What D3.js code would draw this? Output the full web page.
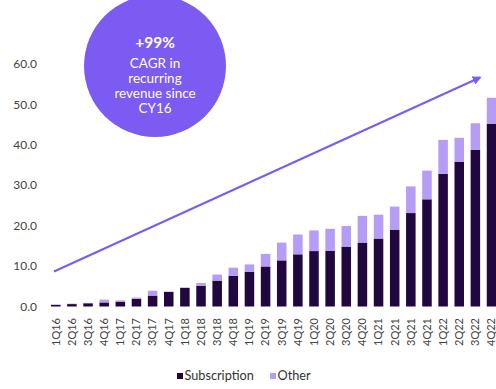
<!DOCTYPE html>
<html>
<head>
<meta charset="utf-8">
<script src="https://cdn.jsdelivr.net/npm/d3@7"></script>
<style>
  html, body { margin: 0; padding: 0; background: #fff; }
  svg { display: block; }
  text { font-family: Lato, "Noto Sans", sans-serif; }
</style>
</head>
<body>
<svg id="chart" width="496" height="389"></svg>
<script>
// Quarterly revenue ($M), split into subscription and other
const quarters = ["1Q16","2Q16","3Q16","4Q16","1Q17","2Q17","3Q17","4Q17",
  "1Q18","2Q18","3Q18","4Q18","1Q19","2Q19","3Q19","4Q19",
  "1Q20","2Q20","3Q20","4Q20","1Q21","2Q21","3Q21","4Q21",
  "1Q22","2Q22","3Q22","4Q22"];
const subscription = [0.4, 0.6, 0.8, 1.0, 1.2, 1.9, 2.7, 3.6,
  4.6, 5.1, 6.4, 7.6, 8.6, 9.9, 11.4, 12.9,
  13.7, 13.8, 14.8, 15.8, 16.8, 19.0, 23.1, 26.5,
  32.8, 35.8, 38.7, 45.2];
const other = [0.1, 0.1, 0.1, 0.7, 0.3, 0.3, 1.2, 0.1,
  0.1, 0.7, 1.5, 2.0, 1.8, 3.1, 4.4, 4.9,
  5.1, 5.4, 5.1, 6.6, 5.9, 5.7, 6.6, 7.1,
  8.4, 5.9, 6.6, 6.4];
const yTicks = [0, 10, 20, 30, 40, 50, 60];
const seriesNames = ["Subscription", "Other"];
const calloutLines = ["CAGR in", "recurring", "revenue since", "CY16"];
const calloutHeadline = "+99%";

const colors = { Subscription: "#22073f", Other: "#b59df6" };
const accent = "#7b5bf1";

const svg = d3.select("#chart");

const x = d3.scaleBand().domain(quarters).range([44.4, 502.9]).padding(0.41);
const y = d3.scaleLinear().domain([0, 60]).range([306.5, 63.8]);

// Stacked bars
const rows = quarters.map((q, i) => ({ q, Subscription: subscription[i], Other: other[i] }));
const stack = d3.stack().keys(seriesNames)(rows);

svg.append("g").selectAll("g").data(stack).join("g")
  .attr("fill", d => colors[d.key])
  .selectAll("rect").data(d => d).join("rect")
  .attr("x", d => x(d.data.q))
  .attr("width", x.bandwidth())
  .attr("y", d => y(d[1]))
  .attr("height", d => y(d[0]) - y(d[1]));

// Y axis: labels only
const yAxis = svg.append("g").attr("transform", "translate(37,0)")
  .call(d3.axisLeft(y).tickValues(yTicks).tickFormat(d3.format(".1f")).tickSize(0).tickPadding(0));
yAxis.select(".domain").remove();
yAxis.selectAll("text").attr("fill", "#444").style("font-size", "12px")
  .style("font-family", "Lato, sans-serif");

// X axis: rotated quarter labels
const xAxis = svg.append("g").attr("transform", "translate(0,312)")
  .call(d3.axisBottom(x).tickSize(0).tickPadding(0));
xAxis.select(".domain").remove();
xAxis.selectAll("text")
  .attr("fill", "#444").style("font-size", "11px").style("font-family", "Lato, sans-serif")
  .attr("transform", "rotate(-90)")
  .attr("text-anchor", "end")
  .attr("x", -6).attr("y", 0).attr("dy", "0.35em");

// Growth arrow
const defs = svg.append("defs");
defs.append("marker").attr("id", "arrowhead")
  .attr("viewBox", "0 0 10 10").attr("refX", 8).attr("refY", 5)
  .attr("markerWidth", 4.5).attr("markerHeight", 4.5).attr("orient", "auto")
  .append("path").attr("d", "M0,0 L10,5 L0,10 Z").attr("fill", accent);

svg.append("line")
  .attr("x1", 54).attr("y1", 271.5)
  .attr("x2", 480).attr("y2", 77.5)
  .attr("stroke", accent).attr("stroke-width", 2)
  .attr("marker-end", "url(#arrowhead)");

// Callout circle
const callout = svg.append("g").attr("transform", "translate(155,66)");
callout.append("circle").attr("r", 71).attr("fill", accent);
callout.append("text").attr("y", -23).attr("text-anchor", "middle")
  .attr("dy", "0.35em").attr("fill", "#fff")
  .style("font-size", "15.5px").style("font-weight", "700")
  .text(calloutHeadline);
callout.selectAll("text.line").data(calloutLines).join("text")
  .attr("class", "line")
  .attr("y", (d, i) => -2.5 + i * 14.8)
  .attr("dy", "0.35em").attr("text-anchor", "middle")
  .attr("fill", "#fff").style("font-size", "13.5px")
  .text(d => d);

// Legend
const legend = svg.append("g").attr("transform", "translate(177,376)");
const legendX = [0, 93];
seriesNames.forEach((name, i) => {
  const g = legend.append("g").attr("transform", `translate(${legendX[i]},0)`);
  g.append("rect").attr("x", 0).attr("y", -3).attr("width", 6).attr("height", 6)
    .attr("fill", colors[name]);
  g.append("text").attr("x", 7.5).attr("dy", "0.35em")
    .attr("fill", "#333").style("font-size", "12.7px").text(name);
});
</script>
</body>
</html>
